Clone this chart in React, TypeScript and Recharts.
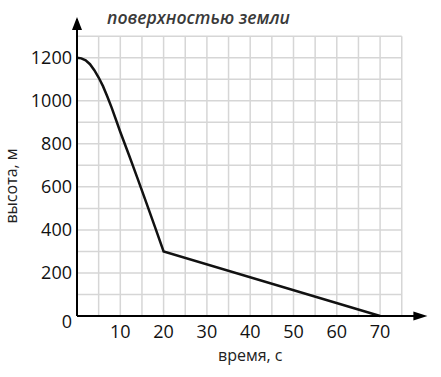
import React from 'react';
import { LineChart, Line, XAxis, YAxis, ReferenceLine, ReferenceDot } from 'recharts';

const times = [0, 1, 2, 3, 4, 5, 6, 7, 8, 9, 10, 12, 14, 16, 18, 20, 70];
const heights = [1200, 1197, 1188, 1170, 1142, 1108, 1068, 1020, 968, 912, 855, 748, 638, 527, 414, 300, 0];
const xTicks = [10, 20, 30, 40, 50, 60, 70];
const yTicks = [0, 200, 400, 600, 800, 1000, 1200];
const xGrid = [5, 10, 15, 20, 25, 30, 35, 40, 45, 50, 55, 60, 65, 70, 75];
const yGrid = [100, 200, 300, 400, 500, 600, 700, 800, 900, 1000, 1100, 1200, 1300];
const title = 'поверхностью земли';
const xLabel = 'время, с';
const yLabel = 'высота, м';

const data = times.map((t, i) => ({ t, h: heights[i] }));

const FONT = '"Open Sans", sans-serif';
const GRID = '#d6d6d6';

const YTick = (props: any) => {
  const { x, y, payload } = props;
  const off = payload.value === 0 ? 6 : 0;
  return (
    <text x={x} y={y + off} dy="0.355em" textAnchor="end" fontSize={18} fontFamily={FONT} fill="#111">
      {payload.value}
    </text>
  );
};

const XArrow = (p: any) => {
  const { cx, cy } = p;
  return <path d={`M${cx + 4},${cy} L${cx - 10},${cy - 4.5} L${cx - 10},${cy + 4.5} Z`} fill="#000" />;
};
const YArrow = (p: any) => {
  const { cx, cy } = p;
  return <path d={`M${cx},${cy - 2} L${cx - 5},${cy + 11} L${cx + 5},${cy + 11} Z`} fill="#000" />;
};

export default function App() {
  return (
    <div style={{ position: 'absolute', left: 0, top: 0, width: 441, height: 377, background: '#fff' }}>
      <LineChart width={441} height={377} data={data} margin={{ top: 19, right: 17.6, bottom: 31, left: 0 }}>
        {xGrid.map((v) => (
          <ReferenceLine key={'gx' + v} segment={[{ x: v, y: 0 }, { x: v, y: 1300 }]} stroke={GRID} strokeWidth={1.5} />
        ))}
        {yGrid.map((v) => (
          <ReferenceLine key={'gy' + v} segment={[{ x: 0, y: v }, { x: 75, y: v }]} stroke={GRID} strokeWidth={1.5} />
        ))}
        <XAxis
          dataKey="t"
          type="number"
          domain={[0, 80]}
          ticks={xTicks}
          interval={0}
          height={30}
          tickLine={false}
          tickSize={0}
          tickMargin={9}
          axisLine={{ stroke: '#000', strokeWidth: 2 }}
          tick={{ fill: '#111', fontSize: 18, fontFamily: FONT }}
          label={{
            content: (p: any) => {
              const vb = p.viewBox;
              return (
                <text x={vb.x + vb.width / 2} y={361} textAnchor="middle" fontSize={16} fontFamily={FONT} fill="#222">
                  {xLabel}
                </text>
              );
            },
          }}
        />
        <YAxis
          type="number"
          domain={[0, 1380]}
          ticks={yTicks}
          interval={0}
          width={77}
          tickLine={false}
          tickSize={0}
          tickMargin={5}
          axisLine={{ stroke: '#000', strokeWidth: 2 }}
          tick={<YTick />}
          label={{
            content: () => (
              <text x={17} y={186} transform="rotate(-90 17 186)" textAnchor="middle" fontSize={16} fontFamily={FONT} fill="#222">
                {yLabel}
              </text>
            ),
          }}
        />
        <ReferenceDot x={80} y={0} r={0} shape={<XArrow />} ifOverflow="visible" />
        <ReferenceDot x={0} y={1380} r={0} shape={<YArrow />} ifOverflow="visible" />
        <Line
          type="linear"
          dataKey="h"
          stroke="#111"
          strokeWidth={2.5}
          dot={false}
          activeDot={false}
          isAnimationActive={false}
        />
      </LineChart>
      <svg width={441} height={40} style={{ position: 'absolute', left: 0, top: 0 }}>
        <text x={107} y={24} fontSize={17.6} fontWeight={600} fontStyle="italic" fontFamily={FONT} fill="#3a3a3a">
          {title}
        </text>
      </svg>
    </div>
  );
}
